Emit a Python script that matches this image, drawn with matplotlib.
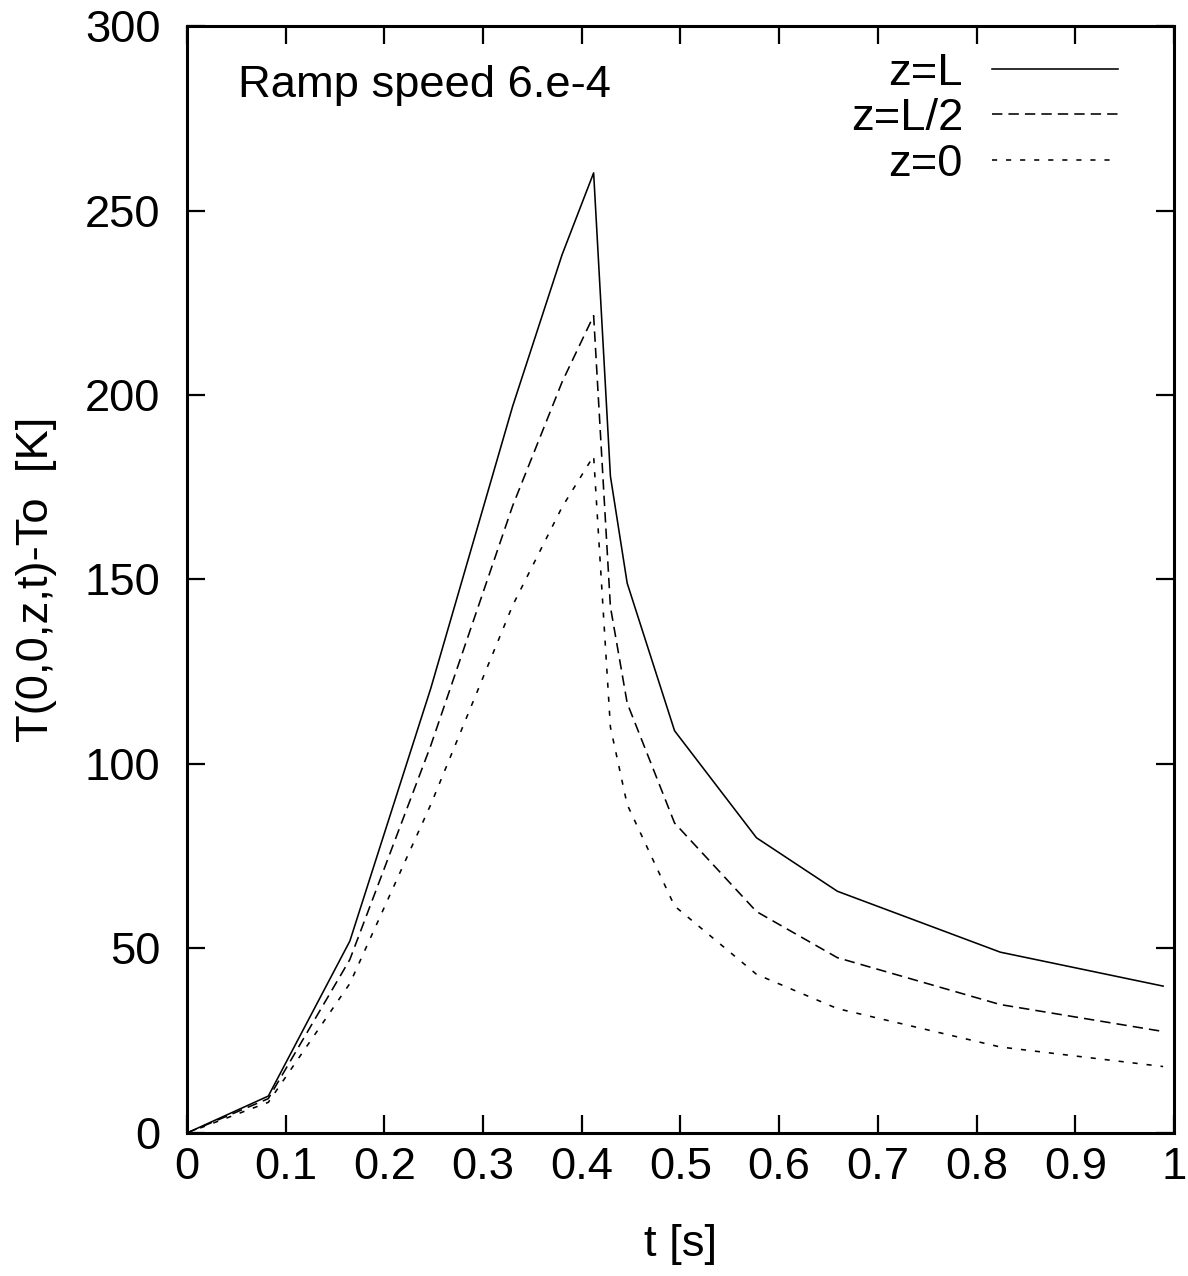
import matplotlib
matplotlib.use("Agg")
import matplotlib.pyplot as plt

plt.rcParams['font.family'] = ['Liberation Sans', 'DejaVu Sans']

# time points [s]
t = [0, 0.0824, 0.165, 0.247, 0.33, 0.38, 0.412, 0.429, 0.446,
     0.494, 0.577, 0.659, 0.824, 0.989]

T_zL = [0, 10, 52, 120.5, 197, 238, 260.2, 178, 149,
        109, 80, 65.5, 49, 39.8]
T_zL2 = [0, 9.3, 47, 105, 170, 203.5, 221.5, 142.6, 116.5,
         84, 60, 47.5, 34.8, 27.5]
T_z0 = [0, 8.3, 40.5, 89, 143, 169.6, 183.5, 110, 89,
        61.5, 43, 33.7, 23.3, 18]

labels = ["z=L", "z=L/2", "z=0"]

fs = 32.7

fig = plt.figure(figsize=(11.88, 12.76), dpi=100)
ax = fig.add_axes([0.1574, 0.1121, 0.9882 - 0.1574, 0.9796 - 0.1121])

ax.plot(t, T_zL, "k-", lw=1.15, label=labels[0])
ax.plot(t, T_zL2, color="k", lw=1.15, dashes=(6.5, 3.8), label=labels[1])
ax.plot(t, T_z0, color="k", lw=1.15, dashes=(3.2, 5.6), label=labels[2])

ax.set_xlim(0, 1)
ax.set_ylim(0, 300)
ax.set_xticks([0, 0.1, 0.2, 0.3, 0.4, 0.5, 0.6, 0.7, 0.8, 0.9, 1])
ax.set_xticklabels(["0", "0.1", "0.2", "0.3", "0.4", "0.5", "0.6", "0.7", "0.8", "0.9", "1"])
ax.set_yticks([0, 50, 100, 150, 200, 250, 300])

ax.tick_params(direction="in", length=13, width=1.6, labelsize=fs,
               top=True, right=True)
ax.tick_params(axis="x", pad=10)
ax.tick_params(axis="y", pad=19)
for sp in ax.spines.values():
    sp.set_linewidth(2.2)

ax.set_xlabel("t [s]", fontsize=fs, labelpad=26)
ax.set_ylabel("T(0,0,z,t)-To  [K]", fontsize=fs, labelpad=20)

ax.text(0.052, 0.946, "Ramp speed 6.e-4", transform=ax.transAxes,
        fontsize=fs, ha="left", va="center")

leg = ax.legend(loc="upper right", bbox_to_anchor=(0.9615, 0.9922),
                frameon=False, markerfirst=False,
                fontsize=fs, handlelength=2.77, labelspacing=0.1,
                borderaxespad=0.0, handletextpad=0.64)

fig.savefig("out.png", dpi=100)
